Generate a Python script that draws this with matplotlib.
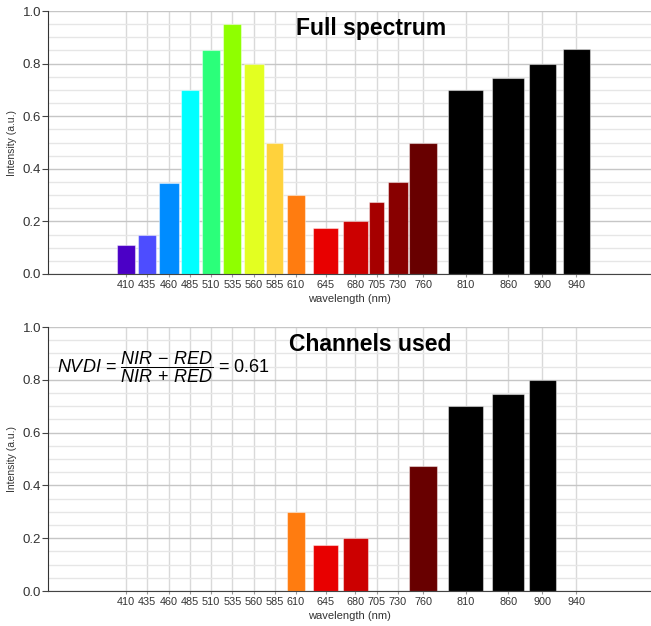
import matplotlib
matplotlib.use('Agg')
import matplotlib.pyplot as plt
from matplotlib.ticker import MultipleLocator

plt.rcParams['font.family'] = ['Liberation Sans', 'DejaVu Sans']
plt.rcParams['mathtext.fontset'] = 'custom'
plt.rcParams['mathtext.rm'] = 'Liberation Sans'
plt.rcParams['mathtext.it'] = 'Liberation Sans:italic'

# Channel data
wavelengths = [410, 435, 460, 485, 510, 535, 560, 585, 610, 645, 680, 705, 730, 760, 810, 860, 900, 940]
widths = [21, 21, 23.5, 21, 21, 21, 23.5, 20, 21, 29, 29, 18, 23.5, 33, 41, 38, 32, 32]
colors = ['#4b00c6', '#4d4dff', '#008cff', '#00ffff', '#2bff7a', '#8fff00', '#e3ff21', '#ffd23c',
          '#ff7c10', '#e80000', '#cc0000', '#a60000', '#880000', '#680000',
          '#000000', '#000000', '#000000', '#000000']
full_values = [0.11, 0.15, 0.345, 0.70, 0.85, 0.95, 0.80, 0.50, 0.30, 0.175, 0.20, 0.275, 0.35, 0.50,
               0.70, 0.745, 0.80, 0.855]

# Channels used for NDVI
used_channels = [610, 645, 680, 760, 810, 860, 900]
used_values = [0.30, 0.175, 0.20, 0.475, 0.70, 0.745, 0.80]

fig = plt.figure(figsize=(6.51, 6.26), dpi=100)
ax1 = fig.add_axes([48 / 651, 1 - 274 / 626, 1 - 48 / 651, 263 / 626])
ax2 = fig.add_axes([48 / 651, 1 - 591 / 626, 1 - 48 / 651, 264 / 626])


def style_axes(ax):
    ax.set_xlim(318, 1028)
    ax.set_ylim(0, 1.0)
    ax.set_xticks(wavelengths)
    ax.set_xticklabels([str(w) for w in wavelengths], fontsize=7.8, color='#333333')
    ax.yaxis.set_minor_locator(MultipleLocator(0.05))
    ax.set_yticks([0, 0.2, 0.4, 0.6, 0.8, 1.0])
    ax.set_yticklabels(['0.0', '0.2', '0.4', '0.6', '0.8', '1.0'], fontsize=9.5, color='#333333')
    ax.tick_params(axis='x', length=2, color='#999999', pad=2)
    ax.tick_params(axis='y', length=4, color='#444444', pad=1)
    ax.tick_params(axis='y', which='minor', length=0)
    ax.grid(axis='x', color='#d9d9d9', lw=1)
    ax.grid(axis='y', which='major', color='#c6c6c6', lw=1)
    ax.grid(axis='y', which='minor', color='#e6e6e6', lw=1)
    ax.set_axisbelow(True)
    for s in ['top', 'right']:
        ax.spines[s].set_visible(False)
    ax.spines['left'].set_color('#333333')
    ax.spines['bottom'].set_color('#444444')
    ax.set_xlabel('wavelength (nm)', fontsize=8, color='#333333', labelpad=3)
    ax.set_ylabel('Intensity (a.u.)', fontsize=7.5, color='#333333', labelpad=4)


# Full spectrum
ax1.bar(wavelengths, full_values, width=widths, color=colors,
        edgecolor=(1, 1, 1, 0.45), linewidth=0.8)
style_axes(ax1)
ax1.text(0.535, 0.935, 'Full spectrum', transform=ax1.transAxes, ha='center', va='center',
         fontsize=16.5, fontweight='bold')

# Channels used
used_widths = [widths[wavelengths.index(c)] for c in used_channels]
used_colors = [colors[wavelengths.index(c)] for c in used_channels]
ax2.bar(used_channels, used_values, width=used_widths, color=used_colors,
        edgecolor=(1, 1, 1, 0.45), linewidth=0.8)
style_axes(ax2)
ax2.text(0.535, 0.935, 'Channels used', transform=ax2.transAxes, ha='center', va='center',
         fontsize=16.5, fontweight='bold')
ax2.text(0.015, 0.847,
         r'$\mathit{NVDI}$ = $\dfrac{\mathit{NIR}\,-\,\mathit{RED}}{\mathit{NIR}\,+\,\mathit{RED}}$ = 0.61',
         transform=ax2.transAxes, ha='left', va='center', fontsize=13)

fig.savefig('out.png', dpi=100)
